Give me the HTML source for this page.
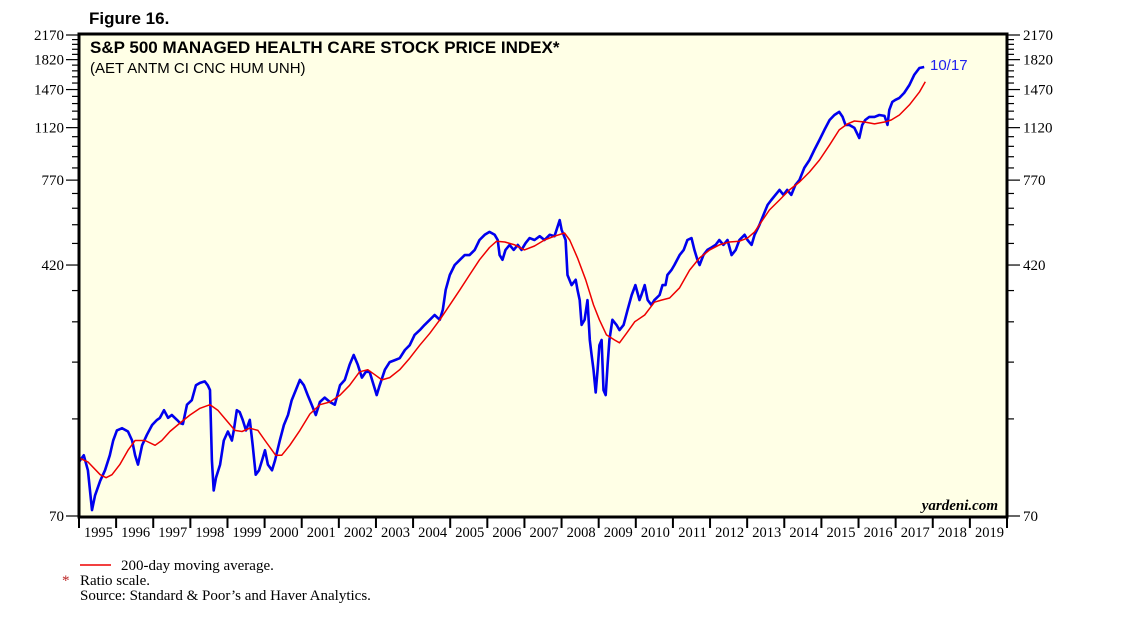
<!DOCTYPE html>
<html><head><meta charset="utf-8"><style>
body{margin:0;background:#fff;width:1138px;height:621px;overflow:hidden}
svg{display:block}
.serif{font-family:"Liberation Serif",serif}
.sans{font-family:"Liberation Sans",sans-serif}
</style></head><body>
<svg id="chart" width="1138" height="621">
<text x="89" y="24" class="sans" font-size="17" font-weight="bold">Figure 16.</text>
<rect x="79" y="34" width="928" height="483" fill="#ffffe6"/>
<g id="axes"></g>
<g id="series"></g>
<rect x="79" y="34" width="928" height="483" fill="none" stroke="#000" stroke-width="3"/>
<text x="90" y="53" class="sans" font-size="17" font-weight="bold">S&amp;P 500 MANAGED HEALTH CARE STOCK PRICE INDEX*</text>
<text x="90" y="73" class="sans" font-size="15">(AET ANTM CI CNC HUM UNH)</text>
<text x="930" y="70" class="sans" font-size="15" fill="#2222ee">10/17</text>
<text x="998" y="510" class="serif" font-size="15" font-style="italic" font-weight="bold" text-anchor="end">yardeni.com</text>
<line x1="80" y1="565" x2="111" y2="565" stroke="#e00" stroke-width="1.5"/>
<text x="121" y="570" class="serif" font-size="15">200-day moving average.</text>
<text x="62" y="585" class="serif" font-size="15" fill="#b22">*</text>
<text x="80" y="585" class="serif" font-size="15">Ratio scale.</text>
<text x="80" y="600" class="serif" font-size="15">Source: Standard &amp; Poor’s and Haver Analytics.</text>
</svg>
<script>
const yTickLabels=[70,420,770,1120,1470,1820,2170];
const xYears=[1995,1996,1997,1998,1999,2000,2001,2002,2003,2004,2005,2006,2007,2008,2009,2010,2011,2012,2013,2014,2015,2016,2017,2018,2019];
const priceDates=[1995.00,1995.13,1995.24,1995.35,1995.43,1995.57,1995.70,1995.83,1995.92,1996.02,1996.16,1996.32,1996.43,1996.51,1996.59,1996.70,1996.83,1996.97,1997.10,1997.18,1997.29,1997.40,1997.50,1997.64,1997.72,1997.80,1997.91,1998.04,1998.15,1998.26,1998.39,1998.47,1998.53,1998.58,1998.63,1998.69,1998.80,1998.90,1999.01,1999.12,1999.17,1999.25,1999.33,1999.41,1999.50,1999.60,1999.68,1999.76,1999.85,1999.93,2000.01,2000.09,2000.20,2000.28,2000.41,2000.52,2000.63,2000.73,2000.84,2000.95,2001.06,2001.16,2001.27,2001.38,2001.49,2001.62,2001.76,2001.89,2002.03,2002.16,2002.29,2002.40,2002.51,2002.62,2002.73,2002.83,2002.94,2003.02,2003.10,2003.24,2003.37,2003.51,2003.64,2003.78,2003.91,2004.04,2004.18,2004.31,2004.45,2004.58,2004.72,2004.80,2004.88,2004.99,2005.12,2005.26,2005.39,2005.52,2005.66,2005.79,2005.93,2006.06,2006.20,2006.28,2006.33,2006.41,2006.49,2006.60,2006.71,2006.82,2006.92,2007.03,2007.14,2007.27,2007.41,2007.54,2007.68,2007.81,2007.95,2008.00,2008.11,2008.16,2008.27,2008.38,2008.43,2008.49,2008.54,2008.62,2008.70,2008.76,2008.81,2008.86,2008.92,2008.97,2009.02,2009.08,2009.13,2009.19,2009.24,2009.29,2009.37,2009.48,2009.56,2009.67,2009.78,2009.89,2009.99,2010.10,2010.15,2010.24,2010.32,2010.42,2010.50,2010.64,2010.72,2010.80,2010.85,2010.96,2011.04,2011.18,2011.29,2011.39,2011.50,2011.58,2011.66,2011.72,2011.82,2011.93,2012.04,2012.15,2012.25,2012.36,2012.47,2012.58,2012.69,2012.79,2012.93,2013.01,2013.12,2013.20,2013.33,2013.44,2013.55,2013.65,2013.76,2013.87,2013.98,2014.08,2014.19,2014.30,2014.41,2014.54,2014.68,2014.81,2014.95,2015.08,2015.22,2015.35,2015.48,2015.57,2015.65,2015.75,2015.89,2016.02,2016.10,2016.18,2016.29,2016.43,2016.56,2016.70,2016.78,2016.83,2016.91,2016.99,2017.10,2017.23,2017.37,2017.50,2017.64,2017.77];
const priceValues=[103,108,97,73,81,90,97,108,120,129,131,128,120,108,101,116,125,134,139,141,149,141,144,139,136,135,155,160,178,181,183,178,172,104,84,92,101,120,128,120,129,149,147,139,129,139,116,94,97,104,112,101,97,104,120,134,144,160,172,185,178,166,155,144,158,163,158,155,178,185,206,221,206,188,196,196,178,166,178,199,210,213,216,229,237,255,264,274,284,294,284,305,352,391,420,436,451,451,468,502,521,532,521,502,451,436,468,485,468,485,468,491,509,502,516,502,521,516,579,540,502,391,364,378,352,327,274,284,327,246,221,199,169,199,237,246,172,166,206,246,284,274,264,274,305,339,364,327,339,364,327,316,327,339,364,364,391,405,420,451,468,502,509,468,436,420,451,468,476,485,502,485,502,451,468,502,521,502,485,521,559,601,645,668,693,718,693,718,693,744,771,840,889,955,1026,1102,1183,1226,1253,1209,1142,1142,1118,1040,1142,1183,1209,1209,1226,1218,1142,1271,1346,1365,1385,1435,1519,1632,1714,1727];
const maDates=[1995.00,1995.24,1995.57,1995.73,1995.89,1996.10,1996.32,1996.51,1996.78,1997.05,1997.23,1997.45,1997.72,1997.99,1998.26,1998.53,1998.74,1998.96,1999.20,1999.39,1999.60,1999.82,2000.01,2000.20,2000.30,2000.46,2000.68,2000.95,2001.22,2001.49,2001.76,2002.03,2002.29,2002.56,2002.78,2002.97,2003.16,2003.37,2003.64,2003.91,2004.18,2004.45,2004.72,2004.99,2005.26,2005.52,2005.79,2006.06,2006.25,2006.47,2006.74,2007.00,2007.27,2007.54,2007.81,2008.08,2008.22,2008.43,2008.65,2008.86,2009.02,2009.21,2009.43,2009.56,2009.75,2009.97,2010.24,2010.50,2010.69,2010.91,2011.18,2011.45,2011.72,2011.99,2012.25,2012.52,2012.79,2013.01,2013.20,2013.38,2013.60,2013.87,2014.14,2014.41,2014.68,2014.95,2015.22,2015.48,2015.70,2015.89,2016.16,2016.43,2016.70,2016.88,2017.10,2017.37,2017.64,2017.80];
const maValues=[106,103,94,92,94,101,112,120,120,116,120,128,136,144,151,155,149,139,129,128,131,129,120,112,108,108,116,129,145,155,158,166,178,196,199,192,185,188,199,216,237,258,284,316,352,391,436,476,498,495,485,468,481,502,516,528,502,442,378,316,284,255,246,241,258,280,294,322,327,332,357,405,442,468,485,495,498,509,532,571,622,668,718,760,816,889,990,1102,1150,1174,1166,1150,1166,1183,1226,1317,1444,1555];

const NS='http://www.w3.org/2000/svg';
const L=79,R=1007,T=34,B=517,Y0=1995,Y1=2020,VMIN=70,VMAX=2170;
const yLow=516,yHigh=35;
function xs(d){return L+(d-Y0)/(Y1-Y0)*(R-L);}
function ys(v){return yLow-(Math.log(v/VMIN)/Math.log(VMAX/VMIN))*(yLow-yHigh);}
function mk(tag,attrs,parent){const e=document.createElementNS(NS,tag);for(const k in attrs)e.setAttribute(k,attrs[k]);parent.appendChild(e);return e;}
const axes=document.getElementById('axes');
for(let v=140;v<VMAX;v+=70){
  if(yTickLabels.indexOf(v)>=0)continue;
  const y=ys(v);
  const a=mk('line',{x1:72,x2:78,y1:y,y2:y,stroke:'#000','stroke-width':1.2},axes);
  
  
  const b=mk('line',{x1:1008,x2:1014,y1:y,y2:y,stroke:'#000','stroke-width':1.2},axes);
  
  
}
yTickLabels.forEach(v=>{
  const y=ys(v);
  const a=mk('line',{x1:66,x2:78,y1:y,y2:y,stroke:'#000','stroke-width':1.2},axes);
  
  
  const b=mk('line',{x1:1008,x2:1020,y1:y,y2:y,stroke:'#000','stroke-width':1.2},axes);
  
  
  const t=mk('text',{x:64,y:y+5,'text-anchor':'end','font-size':15,'class':'serif'},axes);
  t.textContent=v;
  
  
  const t2=mk('text',{x:1023,y:y+5,'font-size':15,'class':'serif'},axes);
  t2.textContent=v;
  
  
});
xYears.forEach(yr=>{
  const x=xs(yr);
  const tk=mk('line',{x1:x,x2:x,y1:B,y2:B+11,stroke:'#000','stroke-width':2},axes);
  
  
  const t=mk('text',{x:x+(xs(yr+1)-x)/2+1,y:537,'text-anchor':'middle','font-size':14.5,'class':'serif'},axes);
  t.textContent=yr;
  
  
});
const last=mk('line',{x1:R,x2:R,y1:B,y2:B+11,stroke:'#000','stroke-width':2},axes);


const ser=document.getElementById('series');
function path(dates,vals){return dates.map((d,i)=>(i?'L':'M')+xs(d).toFixed(1)+','+ys(vals[i]).toFixed(1)).join('');}
const p1=mk('path',{d:path(priceDates,priceValues),fill:'none',stroke:'#0000ee','stroke-width':2.6,'stroke-linejoin':'round'},ser);


const p2=mk('path',{d:path(maDates,maValues),fill:'none',stroke:'#ee0000','stroke-width':1.5,'stroke-linejoin':'round'},ser);


</script>
</body></html>
